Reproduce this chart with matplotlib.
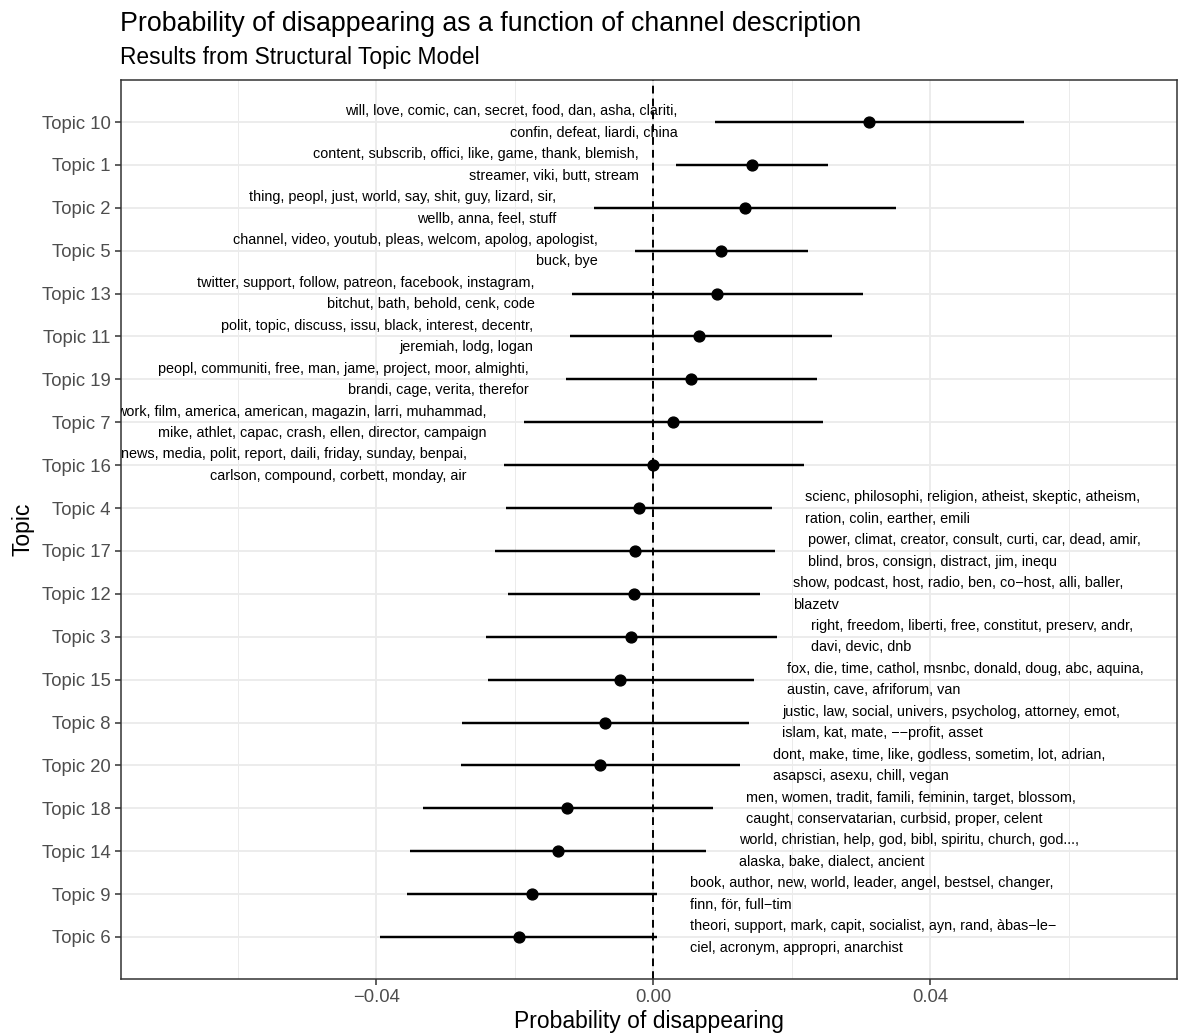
import numpy as np
import matplotlib
matplotlib.use("Agg")
import matplotlib.pyplot as plt
from matplotlib.ticker import FixedLocator

plt.rcParams['font.family'] = ['Liberation Sans', 'DejaVu Sans']

# topics in plotting order, top to bottom
topics = ["Topic 10", "Topic 1", "Topic 2", "Topic 5", "Topic 13", "Topic 11",
          "Topic 19", "Topic 7", "Topic 16", "Topic 4", "Topic 17", "Topic 12",
          "Topic 3", "Topic 15", "Topic 8", "Topic 20", "Topic 18", "Topic 14",
          "Topic 9", "Topic 6"]

estimate = [0.0312, 0.0142, 0.0132, 0.0098, 0.0092, 0.0066, 0.0055, 0.0028, 0.0000,
            -0.0021, -0.0027, -0.0028, -0.0032, -0.0048, -0.0070, -0.0077, -0.0124,
            -0.0138, -0.0175, -0.0194]
ci_lower = [0.0089, 0.0033, -0.0086, -0.0026, -0.0117, -0.0120, -0.0126, -0.0187, -0.0215,
            -0.0213, -0.0229, -0.0209, -0.0242, -0.0239, -0.0276, -0.0278, -0.0332,
            -0.0351, -0.0355, -0.0394]
ci_upper = [0.0535, 0.0252, 0.0351, 0.0223, 0.0303, 0.0258, 0.0236, 0.0245, 0.0218,
            0.0171, 0.0176, 0.0154, 0.0179, 0.0145, 0.0138, 0.0125, 0.0086,
            0.0076, 0.0005, 0.0005]

words = [
    "will, love, comic, can, secret, food, dan, asha, clariti,\nconfin, defeat, liardi, china",
    "content, subscrib, offici, like, game, thank, blemish,\nstreamer, viki, butt, stream",
    "thing, peopl, just, world, say, shit, guy, lizard, sir,\nwellb, anna, feel, stuff",
    "channel, video, youtub, pleas, welcom, apolog, apologist,\nbuck, bye",
    "twitter, support, follow, patreon, facebook, instagram,\nbitchut, bath, behold, cenk, code",
    "polit, topic, discuss, issu, black, interest, decentr,\njeremiah, lodg, logan",
    "peopl, communiti, free, man, jame, project, moor, almighti,\nbrandi, cage, verita, therefor",
    "work, film, america, american, magazin, larri, muhammad,\nmike, athlet, capac, crash, ellen, director, campaign",
    "news, media, polit, report, daili, friday, sunday, benpai,\ncarlson, compound, corbett, monday, air",
    "scienc, philosophi, religion, atheist, skeptic, atheism,\nration, colin, earther, emili",
    "power, climat, creator, consult, curti, car, dead, amir,\nblind, bros, consign, distract, jim, inequ",
    "show, podcast, host, radio, ben, co\u2212host, alli, baller,\nblazetv",
    "right, freedom, liberti, free, constitut, preserv, andr,\ndavi, devic, dnb",
    "fox, die, time, cathol, msnbc, donald, doug, abc, aquina,\naustin, cave, afriforum, van",
    "justic, law, social, univers, psycholog, attorney, emot,\nislam, kat, mate, \u2212\u2212profit, asset",
    "dont, make, time, like, godless, sometim, lot, adrian,\nasapsci, asexu, chill, vegan",
    "men, women, tradit, famili, feminin, target, blossom,\ncaught, conservatarian, curbsid, proper, celent",
    "world, christian, help, god, bibl, spiritu, church, god...,\nalaska, bake, dialect, ancient",
    "book, author, new, world, leader, angel, bestsel, changer,\nfinn, f\u00f6r, full\u2212tim",
    "theori, support, mark, capit, socialist, ayn, rand, \u00e0bas\u2212le\u2212\nciel, acronym, appropri, anarchist",
]

xticks = [-0.04, 0.0, 0.04]
xtick_labels = ["\u22120.04", "0.00", "0.04"]

fig = plt.figure(figsize=(11.82, 10.36), dpi=100)
ax = fig.add_axes([120.5 / 1182, 1 - 979 / 1036, (1177 - 120.5) / 1182, (979 - 80) / 1036])

n = len(topics)
y = np.arange(n, 0, -1)

ax.set_xlim(-0.0769, 0.0756)
ax.set_ylim(0.02, n + 0.98)

# grid in the theme_bw style
ax.set_xticks(xticks)
ax.set_xticklabels(xtick_labels)
ax.xaxis.set_minor_locator(FixedLocator([-0.06, -0.02, 0.02, 0.06]))
ax.set_yticks(y)
ax.set_yticklabels(topics)
ax.grid(which="major", color="#EBEBEB", lw=1.3, zorder=0)
ax.grid(which="minor", axis="x", color="#EBEBEB", lw=0.7, zorder=0)
ax.set_axisbelow(True)

ax.axvline(0, color="black", lw=1.4, linestyle=(0, (4, 2.6)), zorder=2)

ax.hlines(y, ci_lower, ci_upper, color="black", lw=1.75, zorder=3)
ax.plot(estimate, y, "o", color="black", ms=7.8, zorder=4)

# word labels: left of the interval when the estimate is positive, right otherwise
for yi, est, lo, hi, txt in zip(y, estimate, ci_lower, ci_upper, words):
    if est >= 0:
        ax.text(lo - 0.0054, yi, txt, ha="right", va="center", ma="right",
                fontsize=10.4, linespacing=1.68, clip_on=True, zorder=5)
    else:
        ax.text(hi + 0.0048, yi, txt, ha="left", va="center", ma="left",
                fontsize=10.4, linespacing=1.68, clip_on=True, zorder=5)

for s in ax.spines.values():
    s.set_color("#333333")
    s.set_linewidth(1.1)
ax.tick_params(axis="both", which="major", colors="#333333", length=4, width=1.1,
               labelsize=13.3, labelcolor="#4D4D4D", pad=3)
ax.tick_params(axis="x", which="minor", length=0)

ax.set_xlabel("Probability of disappearing", fontsize=16.5, labelpad=3)
ax.set_ylabel("Topic", fontsize=16.5, labelpad=5)

fig.text(120.5 / 1182, 1 - 31 / 1036, "Probability of disappearing as a function of channel description",
         fontsize=19.3, ha="left", va="baseline")
fig.text(120.5 / 1182, 1 - 64 / 1036, "Results from Structural Topic Model",
         fontsize=16.4, ha="left", va="baseline")

fig.savefig("out.png", dpi=100)
